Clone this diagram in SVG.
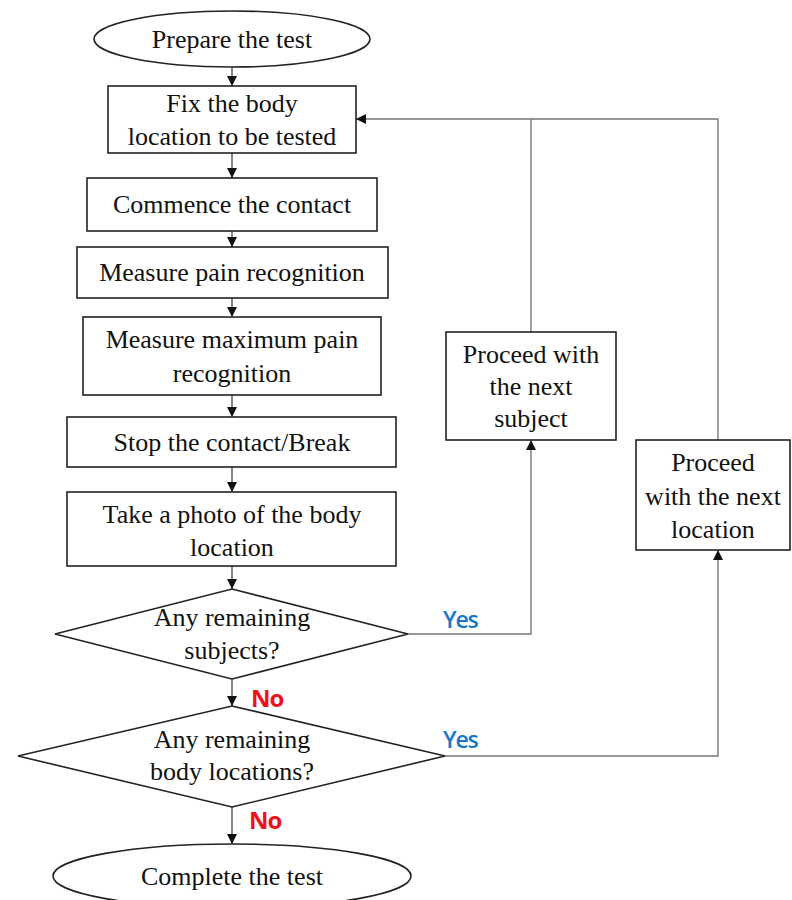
<svg xmlns="http://www.w3.org/2000/svg" width="792" height="900" viewBox="0 0 792 900">
<style>
.shape{fill:#fff;stroke:#222;stroke-width:1.6}
.t{font-family:"Liberation Serif","Times New Roman",serif;font-size:26px;fill:#111;text-anchor:middle}
.c{fill:none;stroke:#333;stroke-width:1.2}
.fb{fill:none;stroke:#777;stroke-width:1.4}
.yes{font-family:"Open Sans","Noto Sans",sans-serif;font-weight:600;font-size:23px;fill:#1677c9;letter-spacing:-1.2px}
.no{font-family:"Open Sans","Noto Sans",sans-serif;font-weight:700;font-size:24px;fill:#f0101a;letter-spacing:-1px}
</style>
<defs>
<marker id="ah" viewBox="0 0 10 10" refX="10" refY="5" markerWidth="10" markerHeight="10" markerUnits="userSpaceOnUse" orient="auto">
<path d="M0,0 L10,5 L0,10 z" fill="#111"/>
</marker>
</defs>
<rect width="792" height="900" fill="#fff"/>
<g id="connectors">
<path class="c" d="M232,67 V86" marker-end="url(#ah)"/>
<path class="c" d="M232,153 V178" marker-end="url(#ah)"/>
<path class="c" d="M232,231 V247" marker-end="url(#ah)"/>
<path class="c" d="M232,298 V317" marker-end="url(#ah)"/>
<path class="c" d="M232,395 V417" marker-end="url(#ah)"/>
<path class="c" d="M232,467 V492" marker-end="url(#ah)"/>
<path class="c" d="M232,566 V589" marker-end="url(#ah)"/>
<path class="c" d="M232,679 V706" marker-end="url(#ah)"/>
<path class="c" d="M232,807 V844" marker-end="url(#ah)"/>
<path class="fb" d="M408,634 H531 V440" marker-end="url(#ah)"/>
<path class="fb" d="M445,756 H718 V550" marker-end="url(#ah)"/>
<path class="fb" d="M531,332 V119"/>
<path class="fb" d="M718,440 V119 H356" marker-end="url(#ah)"/>
<text class="yes" x="443" y="628">Yes</text>
<text class="yes" x="443" y="748">Yes</text>
<text class="no" x="251" y="707">No</text>
<text class="no" x="249" y="829">No</text>
</g>
<g id="prepare">
<ellipse class="shape" cx="232" cy="39" rx="138" ry="28"/>
<text class="t" x="232" y="48">Prepare the test</text>
</g>
<g id="fix">
<rect class="shape" x="108" y="86" width="248" height="67"/>
<text class="t" x="232" y="112">Fix the body</text>
<text class="t" x="232" y="145">location to be tested</text>
</g>
<g id="commence">
<rect class="shape" x="87" y="178" width="290" height="53"/>
<text class="t" x="232" y="213">Commence the contact</text>
</g>
<g id="measure">
<rect class="shape" x="77" y="247" width="311" height="51"/>
<text class="t" x="232" y="281">Measure pain recognition</text>
</g>
<g id="measuremax">
<rect class="shape" x="83" y="317" width="298" height="78"/>
<text class="t" x="232" y="348">Measure maximum pain</text>
<text class="t" x="232" y="382">recognition</text>
</g>
<g id="stop">
<rect class="shape" x="67" y="417" width="329" height="50"/>
<text class="t" x="232" y="451">Stop the contact/Break</text>
</g>
<g id="photo">
<rect class="shape" x="67" y="492" width="329" height="74"/>
<text class="t" x="232" y="523">Take a photo of the body</text>
<text class="t" x="232" y="556">location</text>
</g>
<g id="subjects">
<polygon class="shape" points="232,589 408,634 232,679 55,634"/>
<text class="t" x="232" y="626">Any remaining</text>
<text class="t" x="232" y="659">subjects?</text>
</g>
<g id="locations">
<polygon class="shape" points="232,706 445,756 232,807 18,756"/>
<text class="t" x="232" y="748">Any remaining</text>
<text class="t" x="232" y="780">body locations?</text>
</g>
<g id="complete">
<ellipse class="shape" cx="232" cy="876" rx="179" ry="32"/>
<text class="t" x="232" y="885">Complete the test</text>
</g>
<g id="nextsubject">
<rect class="shape" x="446" y="332" width="170" height="108"/>
<text class="t" x="531" y="363">Proceed with</text>
<text class="t" x="531" y="395">the next</text>
<text class="t" x="531" y="427">subject</text>
</g>
<g id="nextlocation">
<rect class="shape" x="636" y="440" width="154" height="110"/>
<text class="t" x="713" y="471">Proceed</text>
<text class="t" x="713" y="505">with the next</text>
<text class="t" x="713" y="538">location</text>
</g>
</svg>
